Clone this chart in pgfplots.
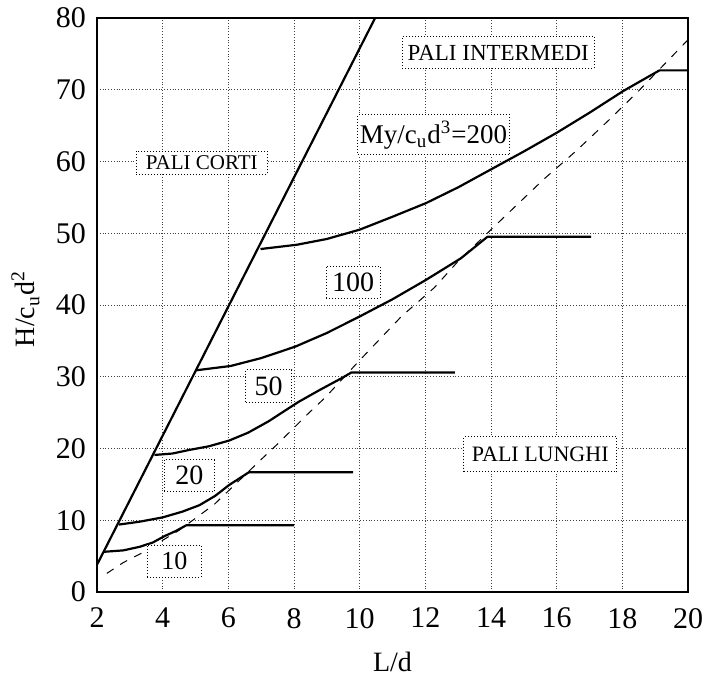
\documentclass[border=0pt]{standalone}
\usepackage{fontspec}
\setmainfont{Liberation Serif}
\usepackage{pgfplots}
\pgfplotsset{compat=1.18}
\usetikzlibrary{calc}
\begin{document}
\begin{tikzpicture}
\begin{axis}[
  scale only axis,
  width=295.5pt, height=287pt,
  xmin=2, xmax=20, ymin=0, ymax=80,
  xtick={2,4,...,20}, ytick={0,10,...,80},
  major tick length=0pt,
  grid=major,
  major grid style={densely dotted, black!75, line width=0.45pt},
  axis line style={line width=1pt},
  /pgf/number format/assume math mode=true,
  tick label style={font=\fontsize{15}{18}\selectfont},
  xticklabel style={yshift=-4.5pt},
  yticklabel style={xshift=-2pt},
  xlabel={L/d},
  ylabel={H/c\textsubscript{u}d\textsuperscript{2}},
  label style={font=\fontsize{14}{17}\selectfont},
  xlabel style={at={(axis description cs:0.5,-0.122)}, anchor=center},
  ylabel style={at={(axis description cs:-0.121,0.493)}, anchor=center},
  clip=true,
]
\tikzset{crv/.style={black, line width=1.1pt, line join=round, mark=none}}
% short piles boundary
\addplot[crv] coordinates {(2,3.8) (10.47,80)};
% intermediate / long boundary (dashed)
\addplot[black, mark=none, line width=0.5pt, dash pattern=on 4pt off 4pt] coordinates {
 (2.3,2.6) (2.8,4.1) (3.35,5.4) (4.5,8.6) (5.57,12.2) (7.03,18.6) (7.54,20.8)
 (8.44,24.9) (8.95,27.1) (9.96,32.1) (11.27,38.4) (12.27,42.4) (12.98,46.0)
 (14.09,50.9) (15.6,57.5) (16.6,61.5) (17.62,65.9) (18.53,70.0) (20.05,77.2)};
% My/cu d^3 = 10
\addplot[crv] coordinates {(2.2,5.6) (2.8,5.8) (3.3,6.3) (3.7,6.9) (4.06,7.8) (4.4,8.5) (4.72,9.3) (8.0,9.3)};
% 20
\addplot[crv] coordinates {(2.67,9.4) (3.3,9.8) (4.0,10.4) (4.6,11.2) (5.12,12.1) (5.6,13.4) (6.02,14.9) (6.63,16.7) (9.8,16.7)};
% 50
\addplot[crv] coordinates {(3.75,19.1) (4.3,19.3) (4.81,19.8) (5.4,20.3) (6.02,21.1) (6.6,22.2) (7.23,23.8) (7.7,25.2) (8.14,26.5) (8.8,28.2) (9.45,29.8) (9.75,30.6) (12.9,30.6)};
% 100
\addplot[crv] coordinates {(5.02,30.9) (6.07,31.5) (7.0,32.6) (8.04,34.2) (9.0,36.1) (10.0,38.4) (11.0,40.8) (12.02,43.5) (13.08,46.5) (13.89,49.5) (17.05,49.5)};
% 200
\addplot[crv] coordinates {(6.98,47.8) (8.09,48.4) (9.0,49.2) (10.0,50.5) (11.0,52.3) (12.02,54.2) (13.0,56.4) (14.0,58.9) (15.0,61.4) (16.0,64.0) (17.0,66.8) (18.02,69.8) (19.13,72.7) (20,72.7)};
% labels
\tikzset{lbl/.style={draw, densely dotted, line width=0.5pt, fill=white, inner sep=0pt, align=center}}
\node[lbl, minimum width=65.5pt, minimum height=11.5pt, font=\fontsize{10.5}{12}\selectfont] at (axis cs:5.19,59.8) {PALI CORTI};
\node[lbl, minimum width=96pt, minimum height=15.8pt, font=\fontsize{11.5}{13}\selectfont] at (axis cs:14.22,75.2) {PALI INTERMEDI};
\node[lbl, minimum width=76pt, minimum height=20pt, font=\fontsize{13.5}{15}\selectfont] at (axis cs:12.25,63.7) {My/c\textsubscript{u}d\textsuperscript{3}=200};
\node[lbl, minimum width=27pt, minimum height=16pt, font=\fontsize{14}{16}\selectfont] at (axis cs:9.8,43.2) {100};
\node[lbl, minimum width=23pt, minimum height=16.5pt, font=\fontsize{14}{16}\selectfont] at (axis cs:7.23,28.7) {50};
\node[lbl, minimum width=25pt, minimum height=16pt, font=\fontsize{14}{16}\selectfont] at (axis cs:4.81,16.2) {20};
\node[lbl, minimum width=27pt, minimum height=16pt, font=\fontsize{13}{15}\selectfont] at (axis cs:4.36,4.3) {10};
\node[lbl, minimum width=76.5pt, minimum height=17.5pt, font=\fontsize{11}{13}\selectfont] at (axis cs:15.5,19.2) {PALI LUNGHI};
\end{axis}
\pgfresetboundingbox
\path ($(current axis.south west)+(-48.5pt,-43.5pt)$) rectangle ($(current axis.north east)+(8pt,9pt)$);
\end{tikzpicture}
\end{document}
